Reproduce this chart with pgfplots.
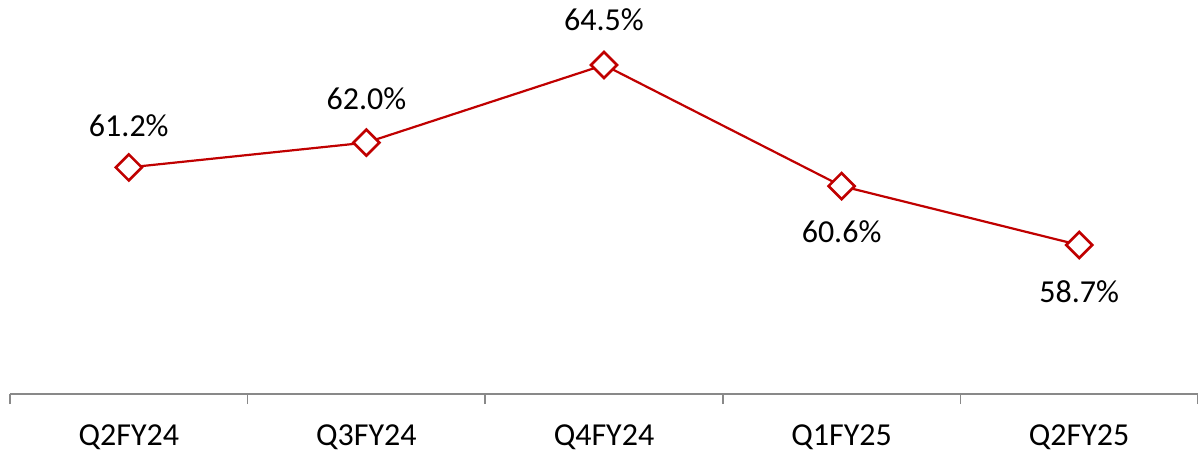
\documentclass[border=0pt]{standalone}
\usepackage{fontspec}
\setmainfont{Carlito}
\usepackage{pgfplots}
\pgfplotsset{compat=1.18}
\definecolor{lred}{HTML}{C00000}
\definecolor{axgray}{HTML}{898989}
\begin{document}
\fontsize{16pt}{19pt}\selectfont
\begin{tikzpicture}
\begin{axis}[
  name=ax,
  scale only axis,
  width=594pt, height=197pt,
  xmin=-0.5, xmax=4.5,
  ymin=53.9, ymax=66.594,
  hide y axis,
  axis x line*=bottom,
  x axis line style={axgray, line width=0.8pt, -},
  xtick={0,1,2,3,4},
  xticklabels={Q2FY24,Q3FY24,Q4FY24,Q1FY25,Q2FY25},
  major x tick style={draw=none},
  minor xtick={-0.5,0.5,1.5,2.5,3.5,4.5},
  minor x tick style={axgray, line width=0.8pt},
  xtick align=outside,
  minor tick length=5pt,
  major tick length=0pt,
  xticklabel style={font=\fontsize{16pt}{19pt}\selectfont, yshift=-10pt},
  clip=false,
  /pgf/number format/assume math mode=true,
  nodes near coords={\pgfmathprintnumber[fixed,fixed zerofill,precision=1,assume math mode=true]{\pgfplotspointmeta}\%},
  point meta=explicit,
  visualization depends on={value \thisrow{s} \as \lshift},
  every node near coord/.append style={anchor=center, yshift=\lshift pt, font=\fontsize{16pt}{19pt}\selectfont, text=black},
]
\addplot[color=lred, line width=1.1pt, mark=square*, mark size=4.6pt,
  mark options={fill=white, draw=lred, line width=1.3pt, rotate=45}]
  table[x=x, y=y, meta=y] {
x y s
0 61.2 21
1 62.0 22
2 64.5 22.5
3 60.6 -23
4 58.7 -23.5
};
\end{axis}
\pgfresetboundingbox
\path (ax.south west) ++(-5pt,-29.5pt) rectangle (ax.north east);
\end{tikzpicture}
\end{document}
